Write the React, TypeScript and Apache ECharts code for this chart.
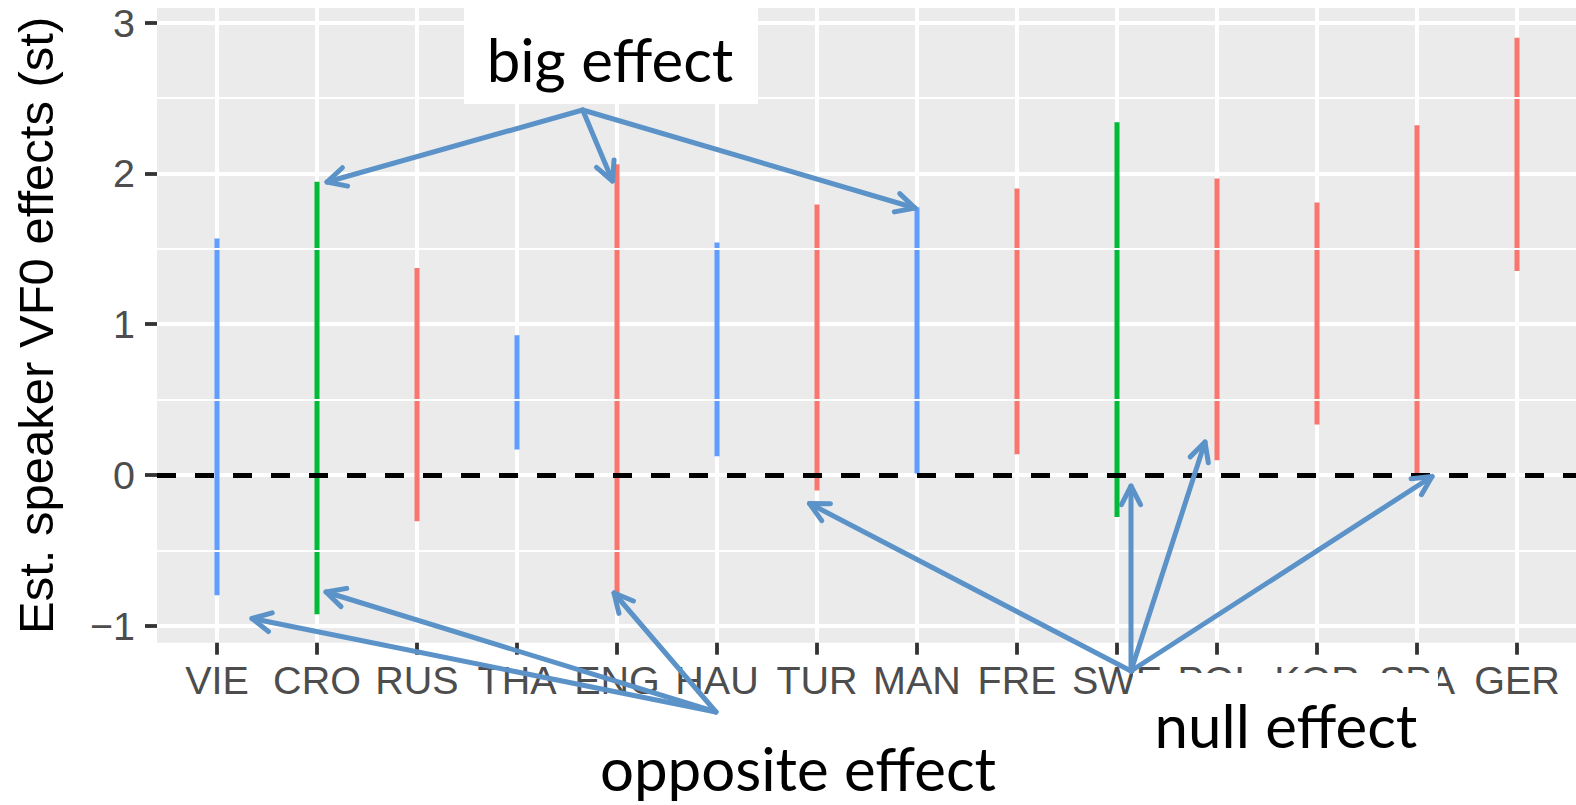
import React, { useEffect, useRef } from 'react';
import * as echarts from 'echarts';

// ---- data ----
const CATEGORIES = ['VIE', 'CRO', 'RUS', 'THA', 'ENG', 'HAU', 'TUR', 'MAN', 'FRE', 'SWE', 'POL', 'KOR', 'SPA', 'GER'];
const LOWER = [-0.797, -0.923, -0.306, 0.169, -0.786, 0.125, -0.103, 0.010, 0.138, -0.278, 0.098, 0.335, 0.010, 1.353];
const UPPER = [1.568, 1.944, 1.373, 0.927, 2.061, 1.542, 1.794, 1.776, 1.900, 2.340, 1.966, 1.807, 2.320, 2.899];
const GROUP = ['blue', 'green', 'red', 'blue', 'red', 'blue', 'red', 'blue', 'red', 'green', 'red', 'red', 'red', 'red'];
const GROUP_COLORS: Record<string, string> = { red: '#F8766D', green: '#00BA38', blue: '#619CFF' };
const Y_TICKS = [-1, 0, 1, 2, 3];
const Y_MINOR = [-0.5, 0.5, 1.5, 2.5];
const Y_RANGE = [-1.112, 3.097];
const X_RANGE = [-0.6, 13.6];
const X_TICKS = CATEGORIES.map((_, i) => i);
const REF_VALUE = 0;
const Y_TITLE = 'Est. speaker VF0 effects (st)';

// ---- annotation overlay (pixel layout) ----
const ARROW_COLOR = '#5B93C9';
const ANNOT_FONT = 'Lato, "Open Sans", sans-serif';
const ANNOTATIONS = [
  { text: 'big effect', x: 610, y: 59, box: [464, 0, 294, 104] },
  { text: 'opposite effect', x: 798, y: 768, box: null },
  { text: 'null effect', x: 1286, y: 725, box: [1133, 673, 305, 95] },
];
const ARROWS: number[][] = [
  // big effect
  [582.7, 110, 327, 182],
  [582.7, 110, 612.5, 181],
  [582.7, 110, 915, 208],
  // opposite effect
  [716, 712, 252, 618.5],
  [716, 712, 326, 592],
  [716, 712, 614, 593],
  // null effect
  [1131, 671, 809.5, 503.5],
  [1131, 671, 1131, 486],
  [1131, 671, 1205, 442],
  [1131, 671, 1432, 476.5],
];

function arrowElements(a: number[]) {
  const [x1, y1, x2, y2] = a;
  const ang = Math.atan2(y2 - y1, x2 - x1);
  const L = 21;
  const spread = (27 * Math.PI) / 180;
  const p1 = [x2 - L * Math.cos(ang - spread), y2 - L * Math.sin(ang - spread)];
  const p2 = [x2 - L * Math.cos(ang + spread), y2 - L * Math.sin(ang + spread)];
  const style = { stroke: ARROW_COLOR, lineWidth: 5, lineCap: 'round', lineJoin: 'round', fill: null };
  return [
    { type: 'line', z: 100, silent: true, shape: { x1, y1, x2, y2 }, style },
    { type: 'polyline', z: 100, silent: true, shape: { points: [p1, [x2, y2], p2] }, style },
  ];
}

const minusFmt = (v: number) => (v < 0 ? '\u2212' + Math.abs(v) : String(v));

export default function App() {
  const ref = useRef<HTMLDivElement>(null);
  useEffect(() => {
    if (!ref.current) return;
    const chart = echarts.init(ref.current, undefined, { renderer: 'svg' });

    const graphics: any[] = [];
    ANNOTATIONS.forEach((an) => {
      if (an.box) {
        graphics.push({
          type: 'rect', z: 99, silent: true,
          shape: { x: an.box[0], y: an.box[1], width: an.box[2], height: an.box[3] },
          style: { fill: '#ffffff' },
        });
      }
    });
    ARROWS.forEach((a) => graphics.push(...arrowElements(a)));
    ANNOTATIONS.forEach((an) => {
      graphics.push({
        type: 'text', z: 101, silent: true,
        style: {
          text: an.text, x: an.x, y: an.y, fill: '#000000',
          fontSize: 60, fontFamily: ANNOT_FONT,
          align: 'center', verticalAlign: 'middle',
          textAlign: 'center', textVerticalAlign: 'middle',
        },
      });
    });

    const option: any = {
      animation: false,
      backgroundColor: '#ffffff',
      grid: {
        left: 157, top: 8, width: 1420, height: 634.7,
        show: true, backgroundColor: '#EBEBEB', borderWidth: 0,
        containLabel: false, outerBoundsMode: 'none',
      },
      xAxis: {
        type: 'value', min: X_RANGE[0], max: X_RANGE[1], position: 'bottom',
        axisLine: { show: false, onZero: false },
        axisTick: { show: true, inside: false, length: 12, customValues: X_TICKS, lineStyle: { color: '#333333', width: 3.8 } },
        axisLabel: {
          show: true, customValues: X_TICKS, margin: 17,
          formatter: (v: number) => CATEGORIES[Math.round(v)] ?? '',
          color: '#4D4D4D', fontSize: 39.5, fontFamily: '"Liberation Sans", Arial, sans-serif', lineHeight: 40,
        },
        splitLine: { show: true, lineStyle: { color: '#ffffff', width: 4 } },
      },
      yAxis: {
        type: 'value', min: Y_RANGE[0], max: Y_RANGE[1], position: 'left',
        axisLine: { show: false, onZero: false },
        axisTick: { show: true, inside: false, length: 12, customValues: Y_TICKS, lineStyle: { color: '#333333', width: 3.8 } },
        axisLabel: {
          show: true, customValues: Y_TICKS, margin: 22, formatter: minusFmt,
          color: '#4D4D4D', fontSize: 39.5, fontFamily: '"Liberation Sans", Arial, sans-serif',
        },
        splitLine: { show: true, lineStyle: { color: '#ffffff', width: 4 } },
        name: Y_TITLE, nameLocation: 'middle', nameRotate: 90, nameGap: 97, nameMoveOverlap: false,
        nameTextStyle: { color: '#000000', fontSize: 49, fontFamily: '"Liberation Sans", Arial, sans-serif', lineHeight: 49 },
      },
      series: [
        {
          type: 'line', data: [], z: 1, silent: true,
          markLine: {
            silent: true, symbol: ['none', 'none'], label: { show: false },
            lineStyle: { color: '#ffffff', width: 2, type: 'solid' },
            emphasis: { disabled: true },
            data: Y_MINOR.map((v) => ({ yAxis: v })),
          },
        },
        {
          type: 'custom', z: 3, silent: true,
          data: CATEGORIES.map((_, i) => [i, LOWER[i], UPPER[i]]),
          encode: { x: 0, y: [1, 2] },
          renderItem: (params: any, api: any) => {
            const i = api.value(0);
            const lo = api.coord([i, api.value(1)]);
            const hi = api.coord([i, api.value(2)]);
            return {
              type: 'line',
              shape: { x1: lo[0], y1: lo[1], x2: hi[0], y2: hi[1] },
              style: { stroke: GROUP_COLORS[GROUP[params.dataIndex]], lineWidth: 5 },
            };
          },
        },
        {
          type: 'line', data: [], z: 5, silent: true,
          markLine: {
            silent: true, symbol: ['none', 'none'], label: { show: false },
            lineStyle: { color: '#000000', width: 5, type: [19, 19], dashOffset: 0 },
            emphasis: { disabled: true },
            data: [{ yAxis: REF_VALUE }],
          },
        },
      ],
      graphic: { elements: graphics },
    };
    chart.setOption(option);
    return () => chart.dispose();
  }, []);
  return <div ref={ref} style={{ position: 'absolute', left: 0, top: 0, width: 1576, height: 805 }} />;
}
